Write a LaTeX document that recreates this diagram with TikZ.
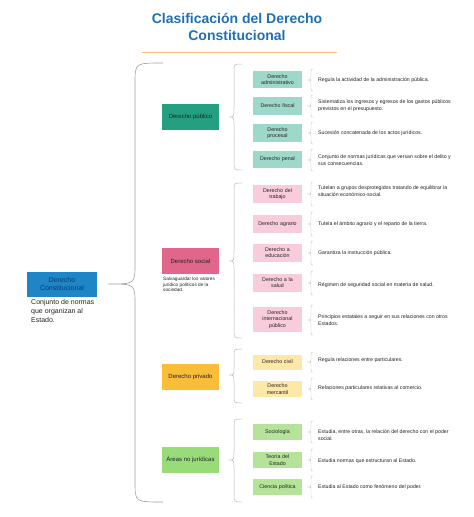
\documentclass[tikz,border=0pt]{standalone}
\usepackage{fontspec}
\setmainfont{Liberation Sans}
\definecolor{titleC}{HTML}{1F6FB5}
\definecolor{lineC}{HTML}{F6C27A}
\definecolor{rootC}{HTML}{1E86C6}
\definecolor{rootT}{HTML}{0B3C6E}
\definecolor{pubC}{HTML}{24A080}
\definecolor{pubL}{HTML}{9ED8CA}
\definecolor{socC}{HTML}{E0668C}
\definecolor{socL}{HTML}{F8CCDA}
\definecolor{priC}{HTML}{F9BD3A}
\definecolor{priL}{HTML}{FDE8A8}
\definecolor{areC}{HTML}{98DC7A}
\definecolor{areL}{HTML}{B6E39A}
\definecolor{txt}{HTML}{222222}
\newcommand\mybrc[8][]{%
  \draw[#1] (#2,#5) .. controls (#3,#5) .. (#3,{#5+#8}) -- (#3,{#6-#8})
    .. controls (#3,#6) .. (#4,#6) .. controls (#3,#6) .. (#3,{#6+#8})
    -- (#3,{#7-#8}) .. controls (#3,#7) .. (#2,#7);}
\newcommand\sbr[2]{\mybrc[smallbr]{313}{311}{308}{#1-#2}{#1}{#1+#2}{3}}
\begin{document}
\begin{tikzpicture}[x=1pt,y=-1pt,
  l1/.style={minimum width=57, minimum height=26, inner sep=1, text=txt,
    font=\fontsize{6}{7}\selectfont, align=center},
  l2/.style={minimum width=49, inner sep=1, text=txt, text width=47,
    font=\fontsize{5.3}{6.2}\selectfont, align=center},
  desc/.style={anchor=west, align=left, inner sep=0, text=txt,
    font=\fontsize{5.2}{7}\selectfont},
  bigbr/.style={draw=black!38, line width=0.6},
  midbr/.style={draw=black!28, line width=0.5},
  smallbr/.style={draw=black!22, line width=0.4}]
\useasboundingbox (0,0) rectangle (474,517);
% title
\node[font=\fontsize{14}{17}\selectfont\bfseries, text=titleC, align=center] (title) at (237,27) {Clasificación del Derecho\\Constitucional};
\draw[lineC, line width=0.8] (142,52) coordinate (tl) -- (337,52) coordinate (tr);
% root
\node[fill=rootC, minimum width=70, minimum height=25, inner sep=1, text=rootT,
  font=\fontsize{7}{8.5}\selectfont, align=center] (root) at (62,284) {Derecho\\Constitucional};
\node[anchor=north west, inner sep=0, align=left, text=txt, font=\fontsize{7}{9}\selectfont] (rootd) at (31,299) {Conjunto de normas\\que organizan al\\Estado.};
% big brace
\mybrc[bigbr]{163}{135}{108}{63}{284}{502}{20}
% level 1
\node[l1, fill=pubC] (pub) at (190.5,117) {Derecho público};
\node[l1, fill=socC] (soc) at (190.5,261) {Derecho social};
\node[anchor=north west, inner sep=0, align=left, text=txt, font=\fontsize{4.7}{5.6}\selectfont] (socd) at (163,277) {Salvaguardar los valores\\jurídico políticos de la\\sociedad.};
\node[l1, fill=priC] (pri) at (190.5,376.5) {Derecho privado};
\node[l1, fill=areC] (are) at (190.5,460) {Áreas no jurídicas};
% mid braces
\mybrc[midbr]{242}{234}{229}{64}{117}{170}{8}
\mybrc[midbr]{242}{234}{229}{183}{261}{338}{8}
\mybrc[midbr]{242}{234}{229}{349}{375}{403}{8}
\mybrc[midbr]{242}{234}{229}{419}{460}{502}{8}
% level 2 - público
\node[l2, fill=pubL, minimum height=17] (pa) at (277.5,79.5) {Derecho\\administrativo};
\node[l2, fill=pubL, minimum height=18] (pf) at (277.5,106) {Derecho fiscal};
\node[l2, fill=pubL, minimum height=18] (pp) at (277.5,133) {Derecho\\procesal};
\node[l2, fill=pubL, minimum height=17] (pn) at (277.5,159.5) {Derecho penal};
% social
\node[l2, fill=socL, minimum height=18] (st) at (277.5,194) {Derecho del\\trabajo};
\node[l2, fill=socL, minimum height=18] (sa) at (277.5,224) {Derecho agrario};
\node[l2, fill=socL, minimum height=18] (se) at (277.5,253) {Derecho a\\educación};
\node[l2, fill=socL, minimum height=18] (ss) at (277.5,283) {Derecho a la\\salud};
\node[l2, fill=socL, minimum height=25] (si) at (277.5,319.5) {Derecho\\internacional\\público};
% privado
\node[l2, fill=priL, minimum height=15] (pc) at (277.5,362) {Derecho civil};
\node[l2, fill=priL, minimum height=16] (pm) at (277.5,389) {Derecho\\mercantil};
% areas
\node[l2, fill=areL, minimum height=16] (as) at (277.5,432) {Sociología};
\node[l2, fill=areL, minimum height=16] (at) at (277.5,460) {Teoría del\\Estado};
\node[l2, fill=areL, minimum height=16] (ac) at (277.5,487) {Ciencia política};
% small braces
\sbr{80}{11}
\sbr{106}{11}
\sbr{133}{11}
\sbr{160}{11}
\sbr{194}{12}
\sbr{224}{12}
\sbr{253}{12}
\sbr{283}{12}
\sbr{320}{15}
\sbr{362}{10}
\sbr{389}{11}
\sbr{432}{11}
\sbr{460}{11}
\sbr{487}{11}
% descriptions
\node[desc] (dpa) at (318,80) {Regula la actividad de la administración pública.};
\node[desc] (dpf) at (318,106) {Sistematiza los ingresos y egresos de los gastos públicos\\previstos en el presupuesto.};
\node[desc] (dpp) at (318,133) {Sucesión concatenada de los actos jurídicos.};
\node[desc] (dpn) at (318,160) {Conjunto de normas jurídicas que versan sobre el delito y\\sus consecuencias.};
\node[desc] (dst) at (318,191.5) {Tutelan a grupos desprotegidos tratando de equilibrar la\\situación económico-social.};
\node[desc] (dsa) at (318,224) {Tutela el ámbito agrario y el reparto de la tierra.};
\node[desc] (dse) at (318,253) {Garantiza la instrucción pública.};
\node[desc] (dss) at (318,285) {Régimen de seguridad social en materia de salud.};
\node[desc] (dsi) at (318,320) {Principios estatales a seguir en sus relaciones con otros\\Estados.};
\node[desc] (dpc) at (318,360) {Regula relaciones entre particulares.};
\node[desc] (dpm) at (318,388) {Relaciones particulares relativas al comercio.};
\node[desc] (das) at (318,435) {Estudia, entre otras, la relación del derecho con el poder\\social.};
\node[desc] (dat) at (318,461) {Estudia normas que estructuran al Estado.};
\node[desc] (dac) at (318,487) {Estudia al Estado como fenómeno del poder.};
\end{tikzpicture}
\end{document}
